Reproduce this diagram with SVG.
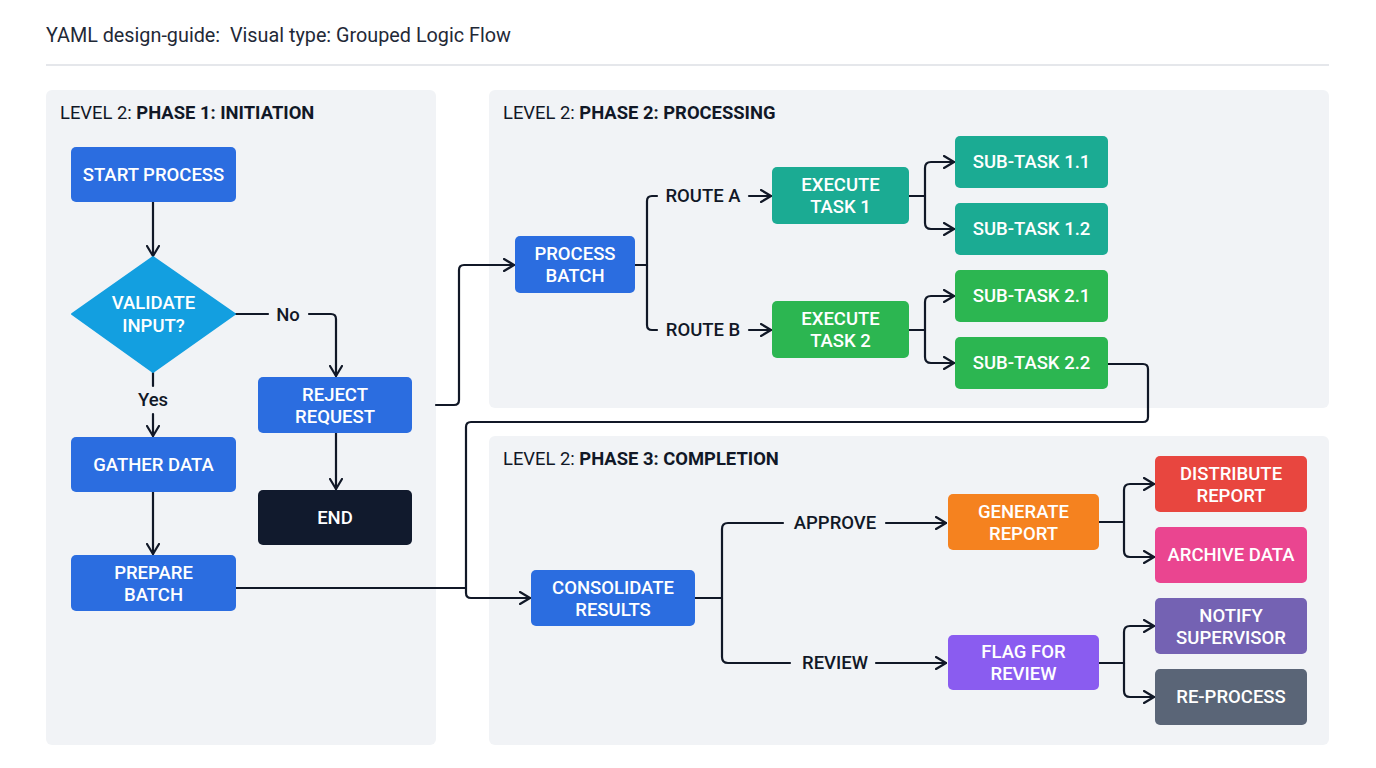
<svg xmlns="http://www.w3.org/2000/svg" width="1376" height="768" viewBox="0 0 1376 768">
<defs>
<style>
.panel{fill:#f1f3f6}
.node text{font-family:Roboto,"Liberation Sans",sans-serif;font-size:18.5px;font-weight:500;fill:#ffffff;text-anchor:middle}
.lbl{font-family:Roboto,"Liberation Sans",sans-serif;font-size:18.5px;font-weight:500;fill:#111827;text-anchor:middle}
.ph{font-family:Roboto,"Liberation Sans",sans-serif;font-size:18.4px;fill:#111827}
.ph tspan.b{font-weight:700}
.conn path{fill:none;stroke:#111827;stroke-width:2.2;stroke-linejoin:round;stroke-linecap:round}
.arr{marker-end:url(#ah)}
</style>
<marker id="ah" viewBox="0 0 12 14" refX="11" refY="7" markerWidth="12" markerHeight="14" markerUnits="userSpaceOnUse" orient="auto">
<path d="M1,1 L11,7 L1,13" fill="none" stroke="#111827" stroke-width="2.2" stroke-linecap="round" stroke-linejoin="round"/>
</marker>
</defs>
<rect width="1376" height="768" fill="#ffffff"/>
<text x="46" y="42" font-family="Roboto,'Liberation Sans',sans-serif" font-size="19.8" fill="#1f2937" style="white-space:pre">YAML design-guide:  Visual type: Grouped Logic Flow</text>
<line x1="46" y1="65" x2="1329" y2="65" stroke="#e5e7eb" stroke-width="2"/>

<g id="panel1"><rect class="panel" x="46" y="90" width="390" height="655" rx="6"/>
<text class="ph" x="60" y="119">LEVEL 2: <tspan class="b">PHASE 1: INITIATION</tspan></text></g>
<g id="panel2"><rect class="panel" x="489" y="90" width="840" height="318" rx="6"/>
<text class="ph" x="503" y="119">LEVEL 2: <tspan class="b">PHASE 2: PROCESSING</tspan></text></g>
<g id="panel3"><rect class="panel" x="489" y="436" width="840" height="309" rx="6"/>
<text class="ph" x="503" y="465">LEVEL 2: <tspan class="b">PHASE 3: COMPLETION</tspan></text></g>

<g id="connectors" class="conn">
<path class="arr" d="M153,202 V256"/>
<path d="M153,372 V386"/>
<path class="arr" d="M153,414 V436"/>
<path class="arr" d="M153,492 V554"/>
<path d="M235,314 H268"/>
<path class="arr" d="M309,314 H331 Q336,314 336,319 V376"/>
<path class="arr" d="M336,433 V489"/>
<path class="arr" d="M436,405 H454 Q459,405 459,400 V270 Q459,265 464,265 H514"/>
<path d="M236,588 H466"/>
<path class="arr" d="M1108,364 H1143 Q1148,364 1148,369 V417 Q1148,422 1143,422 H471 Q466,422 466,427 V593 Q466,598 471,598 H530"/>
<path d="M635,265 H647"/>
<path d="M657,196 H652 Q647,196 647,201 V325 Q647,330 652,330 H657"/>
<path class="arr" d="M749,196 H771"/>
<path class="arr" d="M749,330 H771"/>
<path d="M909,196 H925"/>
<path class="arr" d="M925,196 V168 Q925,162 931,162 H954"/>
<path class="arr" d="M925,196 V223 Q925,229 931,229 H954"/>
<path d="M909,330 H925"/>
<path class="arr" d="M925,330 V302 Q925,296 931,296 H954"/>
<path class="arr" d="M925,330 V357 Q925,363 931,363 H954"/>
<path d="M695,598 H722"/>
<path d="M783,523 H728 Q722,523 722,529 V657 Q722,663 728,663 H790"/>
<path class="arr" d="M886,523 H946"/>
<path class="arr" d="M876,663 H946"/>
<path d="M1099,522 H1124"/>
<path class="arr" d="M1124,522 V490 Q1124,484 1130,484 H1154"/>
<path class="arr" d="M1124,522 V551 Q1124,557 1130,557 H1154"/>
<path d="M1099,663 H1124"/>
<path class="arr" d="M1124,663 V632 Q1124,626 1130,626 H1154"/>
<path class="arr" d="M1124,663 V691 Q1124,697 1130,697 H1154"/>
</g>

<g id="labels">
<text class="lbl" x="153" y="406">Yes</text>
<text class="lbl" x="288" y="321">No</text>
<text class="lbl" x="703" y="202">ROUTE A</text>
<text class="lbl" x="703" y="336">ROUTE B</text>
<text class="lbl" x="835" y="529">APPROVE</text>
<text class="lbl" x="835" y="669">REVIEW</text>
</g>

<g id="start" class="node"><rect x="71" y="147" width="165" height="55" rx="5" fill="#2b6de0"/><text x="153.5" y="181">START PROCESS</text></g>
<g id="validate" class="node"><polygon points="153,257 235,314 153,372 72,314" fill="#139fe0" stroke="#139fe0" stroke-width="2" stroke-linejoin="round"/><text x="153.5" y="309">VALIDATE</text><text x="153.5" y="332">INPUT?</text></g>
<g id="gather" class="node"><rect x="71" y="437" width="165" height="55" rx="5" fill="#2b6de0"/><text x="153.5" y="471">GATHER DATA</text></g>
<g id="prepare" class="node"><rect x="71" y="555" width="165" height="56" rx="5" fill="#2b6de0"/><text x="153.5" y="579">PREPARE</text><text x="153.5" y="601">BATCH</text></g>
<g id="reject" class="node"><rect x="258" y="377" width="154" height="56" rx="5" fill="#2b6de0"/><text x="335" y="401">REJECT</text><text x="335" y="423">REQUEST</text></g>
<g id="end" class="node"><rect x="258" y="490" width="154" height="55" rx="5" fill="#111a2d"/><text x="335" y="524">END</text></g>

<g id="process" class="node"><rect x="515" y="236" width="120" height="57" rx="5" fill="#2b6de0"/><text x="575" y="260">PROCESS</text><text x="575" y="282">BATCH</text></g>
<g id="exec1" class="node"><rect x="772" y="167" width="137" height="57" rx="5" fill="#1bab93"/><text x="840.5" y="191">EXECUTE</text><text x="840.5" y="213">TASK 1</text></g>
<g id="exec2" class="node"><rect x="772" y="301" width="137" height="57" rx="5" fill="#2cb651"/><text x="840.5" y="325">EXECUTE</text><text x="840.5" y="347">TASK 2</text></g>
<g id="st11" class="node"><rect x="955" y="136" width="153" height="52" rx="5" fill="#1bab93"/><text x="1031.5" y="168">SUB-TASK 1.1</text></g>
<g id="st12" class="node"><rect x="955" y="203" width="153" height="52" rx="5" fill="#1bab93"/><text x="1031.5" y="235">SUB-TASK 1.2</text></g>
<g id="st21" class="node"><rect x="955" y="270" width="153" height="52" rx="5" fill="#2cb651"/><text x="1031.5" y="302">SUB-TASK 2.1</text></g>
<g id="st22" class="node"><rect x="955" y="337" width="153" height="52" rx="5" fill="#2cb651"/><text x="1031.5" y="369">SUB-TASK 2.2</text></g>

<g id="consolidate" class="node"><rect x="531" y="570" width="164" height="56" rx="5" fill="#2b6de0"/><text x="613" y="594">CONSOLIDATE</text><text x="613" y="616">RESULTS</text></g>
<g id="generate" class="node"><rect x="948" y="494" width="151" height="56" rx="5" fill="#f5821f"/><text x="1023.5" y="518">GENERATE</text><text x="1023.5" y="540">REPORT</text></g>
<g id="flag" class="node"><rect x="948" y="635" width="151" height="55" rx="5" fill="#8a5cf0"/><text x="1023.5" y="658">FLAG FOR</text><text x="1023.5" y="680">REVIEW</text></g>
<g id="distribute" class="node"><rect x="1155" y="456" width="152" height="56" rx="5" fill="#e8463f"/><text x="1231" y="480">DISTRIBUTE</text><text x="1231" y="502">REPORT</text></g>
<g id="archive" class="node"><rect x="1155" y="527" width="152" height="56" rx="5" fill="#ea4590"/><text x="1231" y="561">ARCHIVE DATA</text></g>
<g id="notify" class="node"><rect x="1155" y="598" width="152" height="56" rx="5" fill="#7462b3"/><text x="1231" y="622">NOTIFY</text><text x="1231" y="644">SUPERVISOR</text></g>
<g id="reprocess" class="node"><rect x="1155" y="669" width="152" height="56" rx="5" fill="#5a6577"/><text x="1231" y="703">RE-PROCESS</text></g>
</svg>
